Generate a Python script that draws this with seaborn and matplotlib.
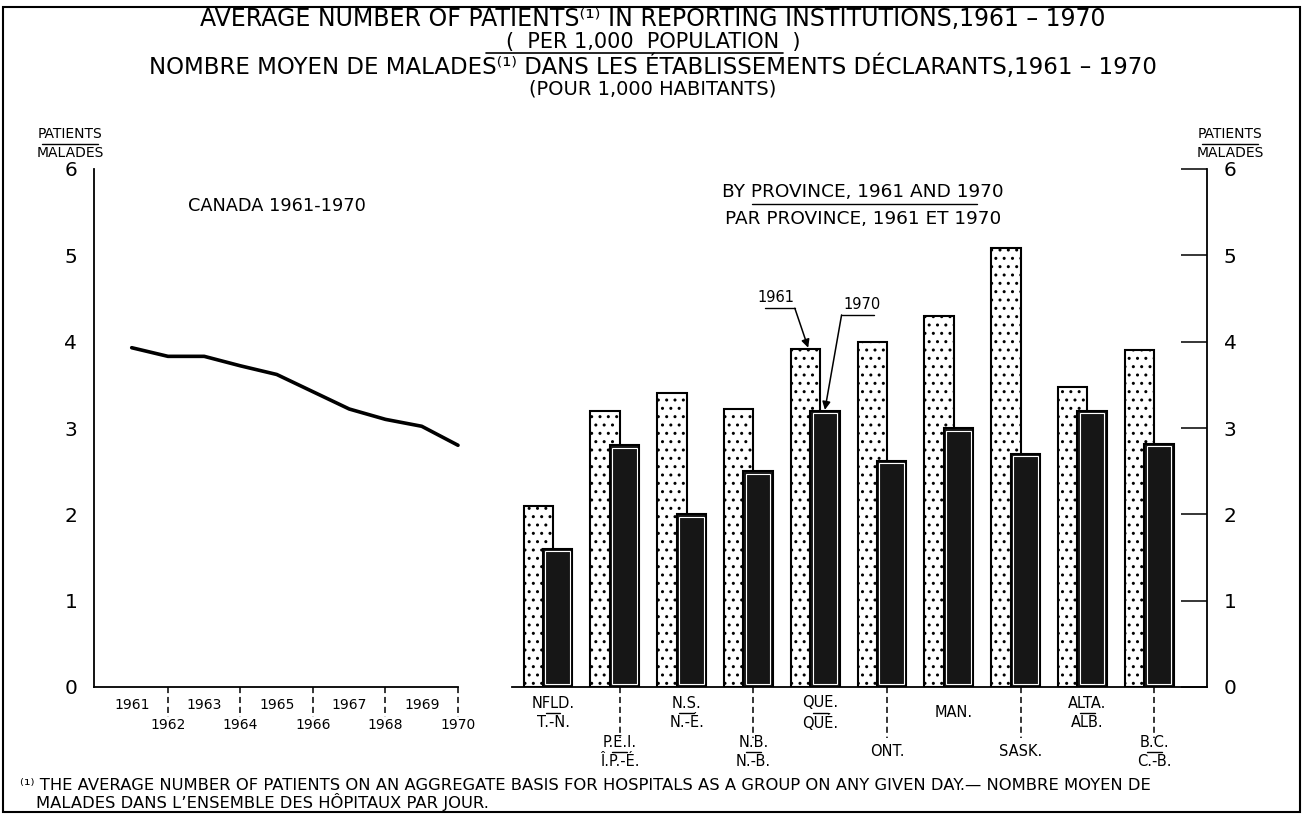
import numpy as np
import matplotlib
matplotlib.use("Agg")
import matplotlib.pyplot as plt
from matplotlib.patches import Rectangle
from matplotlib.lines import Line2D
import seaborn as sns

# ---------------- data ----------------
years = [1961, 1962, 1963, 1964, 1965, 1966, 1967, 1968, 1969, 1970]
canada = [3.93, 3.83, 3.83, 3.72, 3.62, 3.42, 3.22, 3.10, 3.02, 2.80]

prov_en = ["NFLD.", "P.E.I.", "N.S.", "N.B.", "QUE.", "ONT.", "MAN.", "SASK.", "ALTA.", "B.C."]
prov_fr = ["T.-N.", "Î.P.-É.", "N.-É.", "N.-B.", "QUÉ.", "", "", "", "ALB.", "C.-B."]
v1961 = [2.10, 3.20, 3.40, 3.22, 3.92, 4.00, 4.30, 5.08, 3.48, 3.90]
v1970 = [1.60, 2.80, 2.00, 2.50, 3.20, 2.62, 3.00, 2.70, 3.20, 2.82]
yticks = [0, 1, 2, 3, 4, 5, 6]

# ---------------- style ----------------
sns.set_style("white")
plt.rcParams["font.family"] = ["DejaVu Sans"]
plt.rcParams.update({
    "text.color": "black", "axes.edgecolor": "black", "axes.labelcolor": "black",
    "xtick.color": "black", "ytick.color": "black", "hatch.linewidth": 1.0,
})

W, H = 1306, 815
fig = plt.figure(figsize=(W / 100, H / 100), dpi=100)


def fx(px):
    return px / W


def fy(py):
    return 1 - py / H


ax1 = fig.add_axes([fx(94), fy(687), fx(458) - fx(94), fy(169) - fy(687)])
ax2 = fig.add_axes([fx(512), fy(687), fx(1207) - fx(512), fy(169) - fy(687)])

# ---------------- line chart ----------------
sns.lineplot(x=years, y=canada, color="black", linewidth=2.6, ax=ax1, clip_on=False)
ax1.set_xlim(1959.96, 1970)
ax1.set_ylim(0, 6)
ax1.set_yticks(yticks)
ax1.set_xticks(years[::2], labels=[str(y) for y in years[::2]])
ax1.set_xticks(years[1::2], labels=[str(y) for y in years[1::2]], minor=True)
ax1.tick_params(axis="y", direction="in", length=18.7, width=1.1, pad=12, labelsize=14.5)
ax1.tick_params(axis="x", which="major", direction="out", length=5.8, width=1.2, pad=2, labelsize=10)
ax1.tick_params(axis="x", which="minor", length=0, pad=22, labelsize=10)
for s in ["top", "right"]:
    ax1.spines[s].set_visible(False)
for s in ["left", "bottom"]:
    ax1.spines[s].set_linewidth(1.3)
ax1.set_xlabel("")
ax1.set_ylabel("")
xt1 = ax1.get_xaxis_transform()
for y in years[1::2]:
    ax1.plot([y, y], [0, -0.058], transform=xt1, color="black", lw=1.1,
             linestyle=(0, (4, 2.5)), clip_on=False)

# ---------------- bar chart ----------------
pos = np.arange(len(prov_en))
x61 = pos - 0.22
x70 = pos + 0.07
sns.barplot(x=x61, y=v1961, native_scale=True, orient="x", width=0.44, color="white",
            saturation=1, edgecolor="black", linewidth=1.5, hatch="..", errorbar=None,
            ax=ax2)
n61 = len(ax2.patches)
sns.barplot(x=x70, y=v1970, native_scale=True, orient="x", width=0.44, color="#161616",
            saturation=1, edgecolor="black", linewidth=1.5, errorbar=None, ax=ax2)
for p in ax2.patches[n61:]:
    dx, dy = 0.035, 0.03
    ax2.add_patch(Rectangle((p.get_x() + dx, p.get_y() + dy), p.get_width() - 2 * dx,
                            p.get_height() - 2 * dy, fill=False, edgecolor="white",
                            lw=0.8, zorder=p.get_zorder() + 0.1))

ax2.set_xlim(-0.614, 9.79)
ax2.set_ylim(0, 6)
ax2.set_yticks(yticks)
ax2.yaxis.tick_right()
ax2.tick_params(axis="y", left=False, right=True, labelleft=False, labelright=True,
                direction="in", length=18.7, width=1.1, pad=12, labelsize=14.5)
labels = [en if not fr else en + "\n" + fr for en, fr in zip(prov_en, prov_fr)]
ax2.set_xticks(pos[::2], labels=labels[::2])
ax2.set_xticks(pos[1::2], labels=labels[1::2], minor=True)
ax2.tick_params(axis="x", which="major", direction="out", length=5.8, width=1.2, pad=12.9,
                labelsize=10.5)
ax2.tick_params(axis="x", which="minor", length=0, pad=46.8, labelsize=10.5)
plt.setp(ax2.get_xticklabels(which="both"), va="center", linespacing=1.3)
for s in ["top", "left"]:
    ax2.spines[s].set_visible(False)
for s in ["right", "bottom"]:
    ax2.spines[s].set_linewidth(1.3)
ax2.set_xlabel("")
ax2.set_ylabel("")
xt2 = ax2.get_xaxis_transform()
for i in pos[1::2]:
    ax2.plot([i, i], [0, -0.0985], transform=xt2, color="black", lw=1.1,
             linestyle=(0, (4, 2.5)), clip_on=False)
for i, fr in enumerate(prov_fr):
    if fr:
        yy = -0.0496 if i % 2 == 0 else -0.125
        ax2.plot([i - 0.11, i + 0.11], [yy, yy], transform=xt2, color="black", lw=1.0,
                 clip_on=False)

# arrows labelling the Quebec bars
q = prov_en.index("QUE.")
ax2.text(3.34, 4.51, "1961", ha="center", va="center", fontsize=10.5)
ax2.plot([3.18, 3.62], [4.387, 4.387], color="black", lw=1.0, clip_on=False)
ax2.annotate("", xy=(x61[q] + 0.04, v1961[q] + 0.01), xytext=(3.62, 4.387),
             arrowprops=dict(arrowstyle="-|>", color="black", lw=1.1, shrinkA=0,
                             shrinkB=0, mutation_scale=12))
ax2.text(4.63, 4.43, "1970", ha="center", va="center", fontsize=10.5)
ax2.plot([4.32, 4.81], [4.31, 4.31], color="black", lw=1.0, clip_on=False)
ax2.annotate("", xy=(x70[q], v1970[q] + 0.01), xytext=(4.32, 4.31),
             arrowprops=dict(arrowstyle="-|>", color="black", lw=1.1, shrinkA=0,
                             shrinkB=0, mutation_scale=12))

# ---------------- text ----------------
fig.text(0.5, fy(19), "AVERAGE NUMBER OF PATIENTS⁽¹⁾ IN REPORTING INSTITUTIONS,1961 – 1970",
         ha="center", va="center", fontsize=17)
fig.text(0.5, fy(42), "(  PER 1,000  POPULATION  )", ha="center", va="center", fontsize=15)
fig.add_artist(Line2D([fx(486), fx(783)], [fy(53), fy(53)], color="black", lw=1.2,
                      transform=fig.transFigure))
fig.text(0.5, fy(67), "NOMBRE MOYEN DE MALADES⁽¹⁾ DANS LES ÉTABLISSEMENTS DÉCLARANTS,1961 – 1970",
         ha="center", va="center", fontsize=16.5)
fig.text(0.5, fy(89), "(POUR 1,000 HABITANTS)", ha="center", va="center", fontsize=14)

for cx in (70, 1230):
    fig.text(fx(cx), fy(134), "PATIENTS", ha="center", va="center", fontsize=10)
    fig.text(fx(cx), fy(153), "MALADES", ha="center", va="center", fontsize=10)
    fig.add_artist(Line2D([fx(cx - 28), fx(cx + 28)], [fy(143.5), fy(143.5)], color="black",
                          lw=1.0, transform=fig.transFigure))

fig.text(fx(277), fy(206), "CANADA 1961-1970", ha="center", va="center", fontsize=12.8)
fig.text(fx(863), fy(192), "BY PROVINCE, 1961 AND 1970", ha="center", va="center", fontsize=13.3)
fig.add_artist(Line2D([fx(752), fx(977)], [fy(204), fy(204)], color="black", lw=1.0,
                      transform=fig.transFigure))
fig.text(fx(863), fy(219), "PAR PROVINCE, 1961 ET 1970", ha="center", va="center", fontsize=13.3)

fig.text(fx(20), fy(786),
         "⁽¹⁾ THE AVERAGE NUMBER OF PATIENTS ON AN AGGREGATE BASIS FOR HOSPITALS AS A GROUP ON ANY GIVEN DAY.— NOMBRE MOYEN DE",
         ha="left", va="center", fontsize=11.8)
fig.text(fx(36), fy(802), "MALADES DANS L’ENSEMBLE DES HÔPITAUX PAR JOUR.",
         ha="left", va="center", fontsize=11.8)

fig.add_artist(Rectangle((fx(3), fy(812)), fx(1300) - fx(3), fy(7) - fy(812),
                         transform=fig.transFigure, fill=False, edgecolor="black", lw=1.5))

fig.savefig("out.png", dpi=100)
